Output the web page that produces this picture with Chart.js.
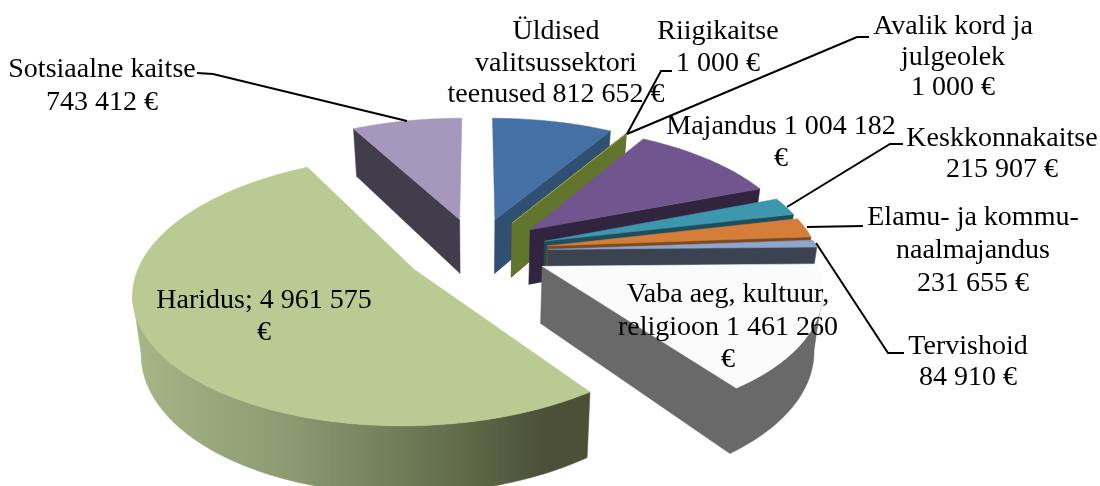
<!DOCTYPE html>
<html lang="et">
<head>
<meta charset="utf-8">
<title>Kulud</title>
<script src="https://cdn.jsdelivr.net/npm/chart.js@4"></script>
<style>
  html, body { margin: 0; padding: 0; background: #fff; }
  #wrap { width: 1100px; height: 486px; overflow: hidden; }
</style>
</head>
<body>
<div id="wrap"><canvas id="chart" width="1100" height="486"></canvas></div>
<script>
// Andmed
const categories = ['Üldised valitsussektori teenused', 'Riigikaitse', 'Avalik kord ja julgeolek', 'Majandus',
  'Keskkonnakaitse', 'Elamu- ja kommunaalmajandus', 'Tervishoid', 'Vaba aeg, kultuur, religioon', 'Haridus', 'Sotsiaalne kaitse'];
const values = [812652, 1000, 1000, 1004182, 215907, 231655, 84910, 1461260, 4961575, 743412];
const labelLines = [
  ['Üldised', 'valitsussektori', 'teenused 812 652 €'],
  ['Riigikaitse', '1 000 €'],
  ['Avalik kord ja', 'julgeolek', '1 000 €'],
  ['Majandus 1 004 182', '€'],
  ['Keskkonnakaitse', '215 907 €'],
  ['Elamu- ja kommu-', 'naalmajandus', '231 655 €'],
  ['Tervishoid', '84 910 €'],
  ['Vaba aeg, kultuur,', 'religioon 1 461 260', '€'],
  ['Haridus; 4 961 575', '€'],
  ['Sotsiaalne kaitse', '743 412 €']
];

// Värvid
const topColors = ['#4470a5', '#c0504d', '#9bbb59', '#71558e', '#3f97ae', '#d57e39', '#8da5cf', '#fbfbfb', '#b9cb92', '#a697bc'];
const wallColors = ['#2f5073', '#8f3b39', '#61752f', '#30243f', '#1e4e5c', '#7d4a1f', '#3b4252', '#696969', null, '#423d4b'];
const drawOrder = [9, 0, 1, 2, 3, 4, 5, 6, 7, 8];

// Paigutus: teksti read (keskpunkt x, esimese rea y, reavahe) ja viikude jooned
const labelPlaces = [
  [556, 32, 31.5], [718, 32, 32], [953, 27, 30.5], [781, 127, 32], [1002, 139, 31],
  [973, 218, 33], [968, 347, 31], [728, 295, 32.5], [264, 301, 32], [102, 70, 33]
];
const leaders = [
  [[197, 73], [213, 74], [407, 121]],
  [[672, 71], [661, 71], [627, 134]],
  [[869, 37], [857, 37], [627, 134]],
  [[903, 144], [890, 144], [787, 207]],
  [[863, 226], [807, 227]],
  [[816, 243], [888, 353], [904, 353]]
];

// 3D vaate seaded
const stretch = 270 / 235;   // raadius pikemaks kui lõuend lubaks
const tilt = 0.467;
const persp = 0.155;
const explode = 0.267;
const depth = 56;
const bottomShrink = 0.975;

function pieFaces(chart) {
  const ctx = chart.ctx;
  const arcs = chart.getDatasetMeta(0).data;

  const project = (el, u, v, low) => {
    const R = el.outerRadius * stretch;
    const s = 1 / (1 - persp * v);
    const k = low ? bottomShrink : 1;
    return {
      x: el.x + u * R * s * k,
      y: el.y + v * R * tilt * s + (low ? depth * s : 0)
    };
  };

  const fillPoly = (pts, color) => {
    ctx.beginPath();
    pts.forEach((p, i) => i ? ctx.lineTo(p.x, p.y) : ctx.moveTo(p.x, p.y));
    ctx.closePath();
    ctx.fillStyle = color;
    ctx.fill();
    ctx.strokeStyle = color;
    ctx.lineWidth = 0.5;
    ctx.stroke();
  };

  const wallGradient = ctx.createLinearGradient(135, 0, 590, 0);
  wallGradient.addColorStop(0, '#a6b686');
  wallGradient.addColorStop(0.35, '#8a9970');
  wallGradient.addColorStop(0.7, '#626e4c');
  wallGradient.addColorStop(0.9, '#4b5037');
  wallGradient.addColorStop(1, '#4b5037');

  drawOrder.forEach(i => {
    const el = arcs[i];
    const mid = (el.startAngle + el.endAngle) / 2;
    const ox = Math.cos(mid) * explode;
    const oy = Math.sin(mid) * explode;

    // lõigu piirjoon: tipp, kaar, tagasi tippu
    const plane = [[ox, oy]];
    const steps = Math.max(1, Math.ceil((el.endAngle - el.startAngle) * 180 / Math.PI));
    for (let n = 0; n <= steps; n++) {
      const a = el.startAngle + (el.endAngle - el.startAngle) * n / steps;
      plane.push([ox + Math.cos(a), oy + Math.sin(a)]);
    }
    plane.push([ox, oy]);

    const top = plane.map(p => project(el, p[0], p[1], false));
    const low = plane.map(p => project(el, p[0], p[1], true));

    // seinad, ainult need mis vaatavad meie poole
    let run = null;
    const flush = () => {
      if (!run) return;
      const poly = run.map(n => top[n]).concat(run.slice().reverse().map(n => low[n]));
      fillPoly(poly, wallColors[i] || wallGradient);
      run = null;
    };
    const lastEdge = top.length - 2;
    for (let n = 0; n <= lastEdge; n++) {
      const dx = top[n + 1].x - top[n].x;
      // peaaegu püstised raadiusseinad jäävad ära
      const limit = (n === 0 || n === lastEdge) ? -4 : 0;
      if (dx < limit) {
        if (!run) run = [n];
        run.push(n + 1);
      } else {
        flush();
      }
    }
    flush();

    fillPoly(top, topColors[i]);
  });
}

function drawLabels(chart) {
  const ctx = chart.ctx;
  ctx.save();
  ctx.strokeStyle = '#000';
  ctx.lineWidth = 2;
  leaders.forEach(line => {
    ctx.beginPath();
    line.forEach((p, i) => i ? ctx.lineTo(p[0], p[1]) : ctx.moveTo(p[0], p[1]));
    ctx.stroke();
  });
  ctx.font = '28px "Liberation Serif"';
  ctx.fillStyle = '#000';
  ctx.textAlign = 'center';
  ctx.textBaseline = 'middle';
  labelLines.forEach((lines, i) => {
    const place = labelPlaces[i];
    lines.forEach((txt, n) => ctx.fillText(txt, place[0], place[1] + n * place[2]));
  });
  ctx.restore();
}

const pie3d = {
  id: 'pie3d',
  beforeDatasetsDraw(chart) {
    pieFaces(chart);
    return false; // lamedat pirukat ei joonista
  },
  afterDraw(chart) {
    drawLabels(chart);
  }
};

new Chart(document.getElementById('chart'), {
  type: 'pie',
  data: {
    labels: categories,
    datasets: [{ data: values, backgroundColor: topColors, borderWidth: 0 }]
  },
  options: {
    responsive: false,
    animation: false,
    // ringi keskpunkt (476.5, 251)
    layout: { padding: { left: 0, right: 147, top: 16, bottom: 0 } },
    plugins: { legend: { display: false }, tooltip: { enabled: false } }
  },
  plugins: [pie3d]
});
</script>
</body>
</html>
